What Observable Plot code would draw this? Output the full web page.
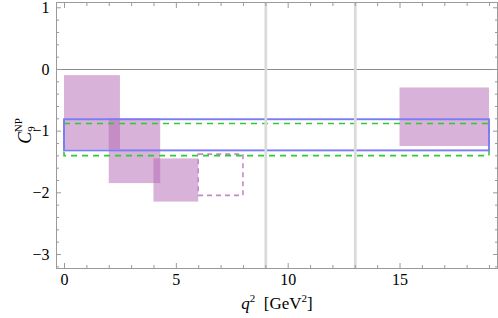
<!DOCTYPE html>
<html><head><meta charset="utf-8">
<script src="https://cdn.jsdelivr.net/npm/d3@7"></script>
<script src="https://cdn.jsdelivr.net/npm/@observablehq/plot@0.6"></script>
<style>body{margin:0;background:#fff}#chart{width:498px;height:318px}</style>
</head><body><div id="chart"></div>
<script>
// q^2 bins with C9^NP ranges (filled boxes)
const binLow = [0, 2, 4, 15];
const binHigh = [2.5, 4.3, 6, 19];
const c9Upper = [-0.1, -0.8, -1.45, -0.3];
const c9Lower = [-1.3, -1.85, -2.15, -1.25];
// dashed (open) bin
const dashLow = [6];
const dashHigh = [8];
const dashUpper = [-1.38];
const dashLower = [-2.05];
// global fit bands spanning full q^2 range
const fitLow = [0];
const fitHigh = [19];
const blueUpper = [-0.815];
const blueLower = [-1.32];
const greenUpper = [-0.885];
const greenLower = [-1.405];
// vetoed resonance lines
const vetoLines = [9, 13];
// ticks
const xMajor = [0, 5, 10, 15];
const xMinor = d3.range(0, 20).filter(d => d % 5 !== 0);
const yMajor = [-3, -2, -1, 0, 1];
const yMinor = d3.range(-16, 6).map(d => +(d * 0.2).toFixed(1)).filter(d => Math.abs(d - Math.round(d)) > 1e-6);

const boxes = binLow.map((d, i) => ({x1: d, x2: binHigh[i], y1: c9Lower[i], y2: c9Upper[i]}));
const dashed = dashLow.map((d, i) => ({x1: d, x2: dashHigh[i], y1: dashLower[i], y2: dashUpper[i]}));
const blue = fitLow.map((d, i) => ({x1: d, x2: fitHigh[i], y1: blueLower[i], y2: blueUpper[i]}));
const green = fitLow.map((d, i) => ({x1: d, x2: fitHigh[i], y1: greenLower[i], y2: greenUpper[i]}));

const tickColor = "#9a9a9a";
const noText = () => "";
const fmt = d => d < 0 ? "\u2212" + (-d) : String(d);

const plot = Plot.plot({
  width: 498, height: 318,
  marginLeft: 56, marginRight: 1, marginTop: 2, marginBottom: 50,
  style: {fontFamily: "'Liberation Serif', serif", fontSize: "15px", color: "black", background: "white"},
  x: {domain: [-0.358, 19.358]},
  y: {domain: [-3.227, 1.086]},
  marks: [
    Plot.ruleY([0], {stroke: "#8c8c8c", strokeWidth: 1.2}),
    Plot.rect(boxes, {x1: "x1", x2: "x2", y1: "y1", y2: "y2", fill: "#b266b2", fillOpacity: 0.5}),
    Plot.rect(dashed, {x1: "x1", x2: "x2", y1: "y1", y2: "y2", fill: "none", stroke: "#c48ac8", strokeWidth: 1.6, strokeDasharray: "5,4"}),
    Plot.rect(green, {x1: "x1", x2: "x2", y1: "y1", y2: "y2", fill: "none", stroke: "#2fcc2f", strokeWidth: 1.6, strokeDasharray: "6,5"}),
    Plot.rect(blue, {x1: "x1", x2: "x2", y1: "y1", y2: "y2", fill: "none", stroke: "#7b7bf5", strokeWidth: 1.9}),
    Plot.ruleX(vetoLines, {stroke: "#dadada", strokeWidth: 2.7}),
    Plot.frame({stroke: tickColor}),
    // inward ticks, left
    Plot.axisY({anchor: "left", ticks: yMajor, tickSize: 5, dx: 5, tickFormat: noText, label: null, stroke: tickColor}),
    Plot.axisY({anchor: "left", ticks: yMinor, tickSize: 3, dx: 3, tickFormat: noText, label: null, stroke: tickColor}),
    // right
    Plot.axisY({anchor: "right", ticks: yMajor, tickSize: 5, dx: -5, tickFormat: noText, label: null, stroke: tickColor}),
    Plot.axisY({anchor: "right", ticks: yMinor, tickSize: 3, dx: -3, tickFormat: noText, label: null, stroke: tickColor}),
    // bottom
    Plot.axisX({anchor: "bottom", ticks: xMajor, tickSize: 5, dy: -5, tickFormat: noText, label: null, stroke: tickColor}),
    Plot.axisX({anchor: "bottom", ticks: xMinor, tickSize: 3, dy: -3, tickFormat: noText, label: null, stroke: tickColor}),
    // top
    Plot.axisX({anchor: "top", ticks: xMajor, tickSize: 5, dy: 5, tickFormat: noText, label: null, stroke: tickColor}),
    Plot.axisX({anchor: "top", ticks: xMinor, tickSize: 3, dy: 3, tickFormat: noText, label: null, stroke: tickColor}),
    // labels
    Plot.axisY({anchor: "left", ticks: yMajor, tickSize: 0, tickPadding: 7, tickFormat: fmt, label: null, fill: "black", fontSize: 16}),
    Plot.axisX({anchor: "bottom", ticks: xMajor, tickSize: 0, tickPadding: 5, tickFormat: fmt, label: null, fill: "black", fontSize: 16})
  ]
});
document.getElementById("chart").appendChild(plot);

const svg = d3.select(plot);
// x-axis label: q^2 [GeV^2]
const xl = svg.append("text")
  .attr("x", 277).attr("y", 309)
  .attr("text-anchor", "middle")
  .attr("font-family", "'Liberation Serif', serif")
  .attr("font-size", 17).attr("fill", "black");
xl.append("tspan").attr("font-style", "italic").text("q");
xl.append("tspan").attr("font-size", 11).attr("dy", -7).text("2");
xl.append("tspan").attr("dy", 7).text("\u2002[GeV");
xl.append("tspan").attr("font-size", 11).attr("dy", -7).text("2");
xl.append("tspan").attr("dy", 7).text("]");

// y-axis label: C_9^NP
const yl = svg.append("text")
  .attr("transform", "translate(31,131) rotate(-90)")
  .attr("text-anchor", "middle")
  .attr("font-family", "'Liberation Serif', serif")
  .attr("font-size", 18).attr("fill", "black");
yl.append("tspan").attr("font-style", "italic").text("C");
yl.append("tspan").attr("font-size", 11).attr("dy", 4).text("9");
yl.append("tspan").attr("font-size", 11).attr("dx", -6).attr("dy", -13).text("NP");
</script>
</body></html>
